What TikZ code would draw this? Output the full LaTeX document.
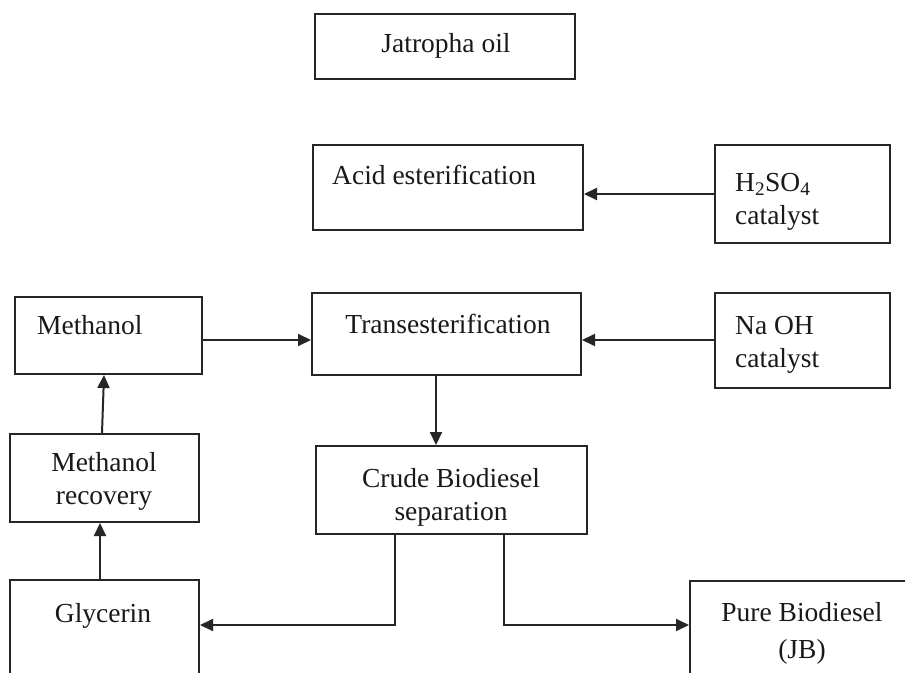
\documentclass[tikz,border=0pt]{standalone}
\usepackage{fontspec}
\setmainfont{Liberation Serif}
\usetikzlibrary{arrows.meta}
\begin{document}
\begin{tikzpicture}[x=1bp,y=-1bp,
  box/.style={draw=black!85, line width=2bp, rectangle, inner sep=0pt},
  txt/.style={inner sep=0pt, font=\fontsize{27.6}{33}\selectfont, text=black!90},
  arr/.style={draw=black!85, line width=2bp, -{Triangle[length=13bp,width=12bp]}}]
\useasboundingbox (0,0) rectangle (905,673);
\fill[white] (0,0) rectangle (905,673);
\clip (0,0) rectangle (905,673);
% boxes
\node[box, minimum width=260bp, minimum height=65bp] (jatropha) at (445,46.5) {};
\node[box, minimum width=270bp, minimum height=85bp] (acid) at (448,187.5) {};
\node[box, minimum width=175bp, minimum height=98bp] (hso) at (802.5,194) {};
\node[box, minimum width=187bp, minimum height=77bp] (methanol) at (108.5,335.5) {};
\node[box, minimum width=269bp, minimum height=82bp] (trans) at (446.5,334) {};
\node[box, minimum width=175bp, minimum height=95bp] (naoh) at (802.5,340.5) {};
\node[box, minimum width=189bp, minimum height=88bp] (recovery) at (104.5,478) {};
\node[box, minimum width=271bp, minimum height=88bp] (crude) at (451.5,490) {};
\node[box, minimum width=189bp, minimum height=120bp] (glycerin) at (104.5,640) {};
\node[box, minimum width=240bp, minimum height=119bp] (pure) at (810,640.5) {};
% texts
\node[txt, text height=19bp, text depth=0pt] (tjatropha) at (446,43) {Jatropha oil};
\node[txt, text height=19bp, text depth=0pt, anchor=west] (tacid) at (332,175) {Acid esterification};
\node[txt, align=left, anchor=west] (thso) at (735,202) {H\textsubscript{2}SO\textsubscript{4}\\catalyst};
\node[txt, align=left, anchor=west] (tnaoh) at (735,345) {Na OH\\catalyst};
\node[txt, text height=19bp, text depth=0pt, anchor=west] (tmethanol) at (37,325) {Methanol};
\node[txt, text height=19bp, text depth=0pt] (ttrans) at (448,324) {Transesterification};
\node[txt, align=center] (trecovery) at (104,481) {Methanol\\recovery};
\node[txt, align=center] (tcrude) at (451,497) {Crude Biodiesel\\separation};
\node[txt, text height=19bp, text depth=0pt] (tglycerin) at (103,613) {Glycerin};
\node[txt, align=center, font=\fontsize{27.6}{37}\selectfont] (tpure) at (802,633) {Pure Biodiesel\\(JB)};
% connectors
\draw[arr] (hso.west) -- (acid.east |- hso.west);
\draw[arr] ([yshift=0.5bp]naoh.west) -- ([yshift=0.5bp]naoh.west -| trans.east);
\draw[arr] ([yshift=-4.5bp]methanol.east) -- ([yshift=-4.5bp]methanol.east -| trans.west);
\draw[arr] ([xshift=-10.5bp]trans.south) -- ([xshift=-10.5bp]trans.south |- crude.north);
\draw[arr] ([xshift=-2.5bp]recovery.north) -- ([xshift=-4.5bp]methanol.south);
\draw[arr] ([xshift=-4.5bp]glycerin.north) -- ([xshift=-4.5bp]glycerin.north |- recovery.south);
\coordinate (c1) at (395,625);
\coordinate (c2) at (504,625);
\draw[arr] (crude.south -| c1) -- (c1) -- (c1 -| glycerin.east);
\draw[arr] (crude.south -| c2) -- (c2) -- (c2 -| pure.west);
\end{tikzpicture}
\end{document}
